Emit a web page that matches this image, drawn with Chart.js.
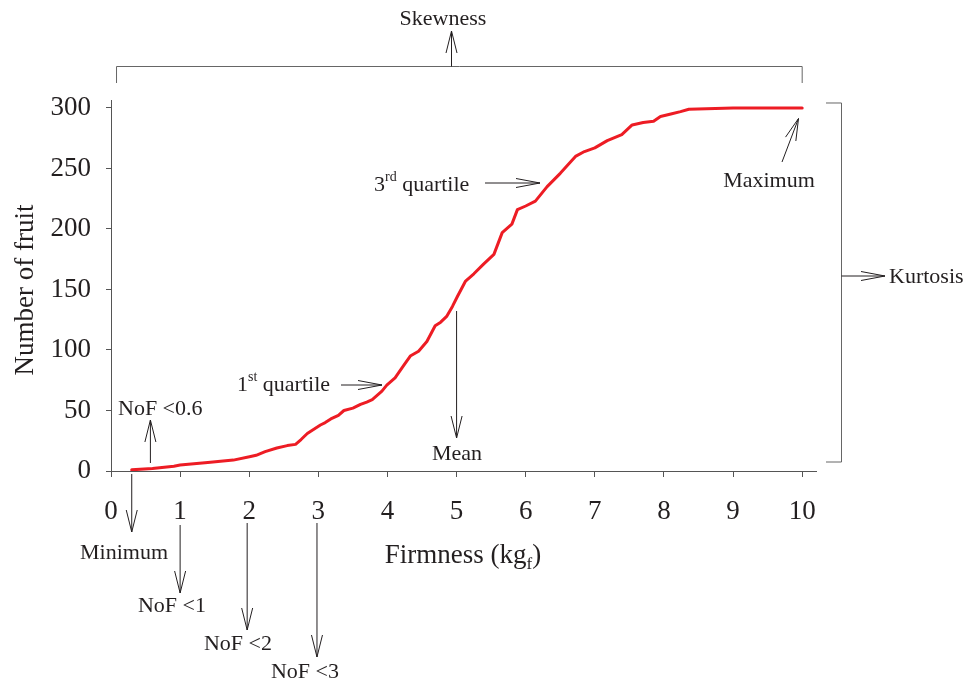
<!DOCTYPE html>
<html>
<head>
<meta charset="utf-8">
<script src="https://cdn.jsdelivr.net/npm/chart.js@4.4.1/dist/chart.umd.min.js"></script>
<style>
html,body{margin:0;padding:0;background:#fff;}
#wrap{position:relative;width:973px;height:684px;}
</style>
</head>
<body>
<div id="wrap"><canvas id="c" width="973" height="684"></canvas></div>
<script>
// ---- data ----
const firmness = [0.30,0.60,0.91,1.00,1.40,1.77,2.02,2.10,2.23,2.40,2.55,2.67,2.75,2.84,3.03,3.10,3.18,3.29,3.37,3.50,3.61,3.70,3.78,3.92,3.99,4.11,4.22,4.33,4.45,4.57,4.69,4.77,4.86,4.94,5.01,5.13,5.25,5.39,5.54,5.66,5.80,5.88,6.00,6.14,6.31,6.50,6.72,6.85,7.00,7.18,7.39,7.54,7.70,7.85,7.95,8.10,8.24,8.36,9.00,10.0];
const fruitCount = [1,2,4,5,7,9,12,13,16,19,21,22,26,31,38,40,43,46,50,52,55,57,59,66,71,77,86,95,99,107,120,123,128,136,144,157,163,171,179,197,204,216,219,223,235,246,260,264,267,273,278,286,288,289,293,295,297,299,300,300];
const xTickValues = [0,1,2,3,4,5,6,7,8,9,10];
const yTickValues = [0,50,100,150,200,250,300];
const xTitle = "Firmness (kg";
const xTitleSub = "f";
const yTitle = "Number of fruit";

const serif = "'Liberation Serif','Times New Roman',serif";
const ink = '#231f20';

const annotations = {
  id: 'annotations',
  afterDraw(chart) {
    const ctx = chart.ctx;
    const xs = chart.scales.x, ys = chart.scales.y;
    const px = v => xs.getPixelForValue(v);
    const py = v => ys.getPixelForValue(v);
    ctx.save();
    ctx.strokeStyle = '#231f20';
    ctx.fillStyle = ink;
    ctx.lineWidth = 1;
    function line(x1,y1,x2,y2,color){
      ctx.save();
      if(color) ctx.strokeStyle = color;
      ctx.beginPath(); ctx.moveTo(x1,y1); ctx.lineTo(x2,y2); ctx.stroke();
      ctx.restore();
    }
    function arrow(x1,y1,x2,y2,len,half){
      len = len||22; half = half||5.5;
      line(x1,y1,x2,y2);
      const a = Math.atan2(y2-y1,x2-x1);
      const bx = x2 - len*Math.cos(a), by = y2 - len*Math.sin(a);
      const nx = -Math.sin(a)*half, ny = Math.cos(a)*half;
      ctx.beginPath();
      ctx.moveTo(bx+nx,by+ny); ctx.lineTo(x2,y2); ctx.lineTo(bx-nx,by-ny);
      ctx.stroke();
    }
    function text(t,x,y,align,size){
      ctx.font = (size||22)+'px '+serif;
      ctx.textAlign = align||'center';
      ctx.textBaseline = 'alphabetic';
      ctx.fillText(t,x,y);
    }
    function supText(base,sup,rest,x,y){
      ctx.textBaseline='alphabetic'; ctx.textAlign='left';
      ctx.font = '22px '+serif; ctx.fillText(base,x,y); x += ctx.measureText(base).width;
      ctx.font = '14px '+serif; ctx.fillText(sup,x,y-10); x += ctx.measureText(sup).width;
      ctx.font = '22px '+serif; ctx.fillText(rest,x,y);
    }

    // Skewness bracket
    const bl = px(0.08), br = px(10);
    line(bl,83,bl,66.5,'#666'); line(bl,66.5,br,66.5,'#666'); line(br,66.5,br,83,'#666');
    arrow(451.5,66.5,451.5,31);
    text('Skewness',443,25);

    // Kurtosis bracket
    const kx = 841.5, kt = py(300)-5, kb = py(0)-9;
    line(826,kt,kx,kt,'#666'); line(kx,kt,kx,kb,'#666'); line(kx,kb,826,kb,'#666');
    arrow(kx,276,885,276,24,4.5);
    text('Kurtosis',889,283,'left');

    arrow(px(0.57),463,px(0.57),420);
    text('NoF <0.6',118,415,'left');
    arrow(px(0.30),474,px(0.30),532);
    text('Minimum',124,559);
    arrow(px(1.0),525,px(1.0),593);
    text('NoF <1',172,612);
    arrow(px(1.97),523,px(1.97),630);
    text('NoF <2',238,650);
    arrow(px(2.98),523,px(2.98),657);
    text('NoF <3',305,678);
    arrow(px(5.0),311,px(5.0),438);
    text('Mean',457,460);
    supText('1','st',' quartile',237,391);
    arrow(341,385,382,385,24,4.5);
    supText('3','rd',' quartile',374,191);
    arrow(485,183,540,183,24,4.5);
    arrow(782,162,798.5,118.5);
    text('Maximum',769,187);

    // axis titles
    ctx.fillStyle = ink;
    ctx.save();
    ctx.translate(33,290); ctx.rotate(-Math.PI/2);
    ctx.font = '27px '+serif; ctx.textAlign='center'; ctx.textBaseline='alphabetic';
    ctx.fillText(yTitle,0,0);
    ctx.restore();
    ctx.font = '27px '+serif;
    const w1 = ctx.measureText(xTitle).width;
    ctx.font = '17px '+serif;
    const w2 = ctx.measureText(xTitleSub).width;
    ctx.font = '27px '+serif;
    const w3 = ctx.measureText(')').width;
    let sx = 463 - (w1+w2+w3)/2;
    ctx.textAlign='left'; ctx.textBaseline='alphabetic';
    ctx.fillText(xTitle,sx,563); sx += w1;
    ctx.font = '17px '+serif; ctx.fillText(xTitleSub,sx,569); sx += w2;
    ctx.font = '27px '+serif; ctx.fillText(')',sx,563);
    ctx.restore();
  }
};

const pts = firmness.map((x,i)=>({x:x,y:fruitCount[i]}));

new Chart(document.getElementById('c'), {
  type: 'scatter',
  data: { datasets: [{
    data: pts, showLine: true, borderColor: '#ed1c24', backgroundColor: '#ed1c24',
    borderWidth: 3, pointRadius: 0, tension: 0, borderJoinStyle: 'round', borderCapStyle: 'round'
  }]},
  options: {
    responsive: false, animation: false,
    layout: { padding: { left: 0, right: 157, top: 100, bottom: 0 } },
    plugins: { legend: {display:false}, tooltip: {enabled:false} },
    scales: {
      x: {
        type: 'linear', min: 0, max: 10.2,
        afterFit: s => { s.height = 213; },
        afterBuildTicks: s => { s.ticks = xTickValues.map(v=>({value:v})); },
        ticks: { stepSize: 1, color: ink, padding: 19, font: { family: serif, size: 27 }, maxRotation: 0, autoSkip: false },
        grid: { display: true, drawOnChartArea: false, drawTicks: true, tickLength: 6, color: '#555' },
        border: { display: true, color: '#555', width: 1 }
      },
      y: {
        type: 'linear', min: 0, max: 306.6,
        afterFit: s => { s.width = 111; },
        afterBuildTicks: s => { s.ticks = yTickValues.map(v=>({value:v})); },
        ticks: { stepSize: 50, color: ink, padding: 15, font: { family: serif, size: 27 }, autoSkip: false },
        grid: { display: true, drawOnChartArea: false, drawTicks: true, tickLength: 5, color: '#555' },
        border: { display: true, color: '#555', width: 1 }
      }
    }
  },
  plugins: [annotations]
});
</script>
</body>
</html>
